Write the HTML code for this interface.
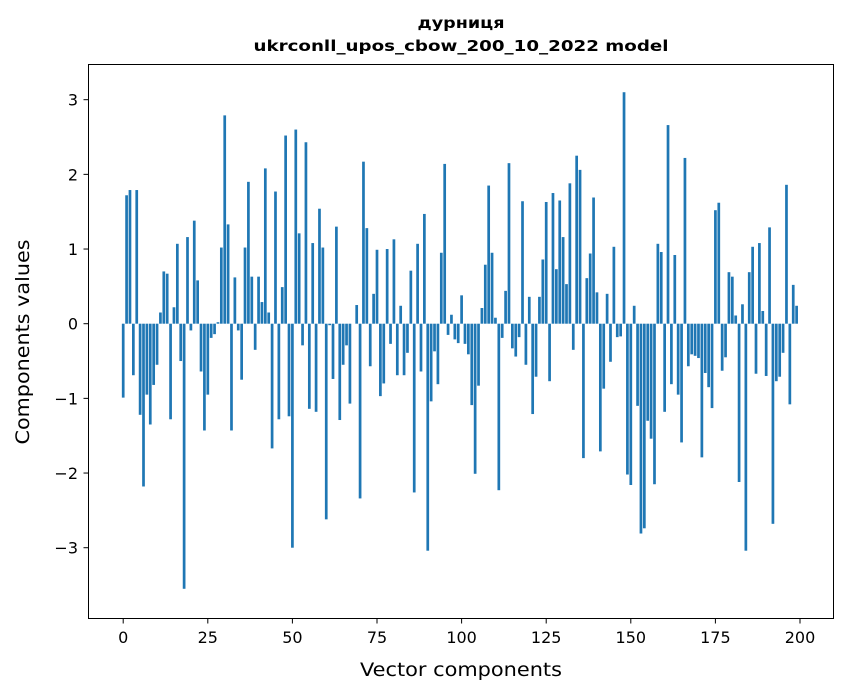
<!DOCTYPE html>
<html><head><meta charset="utf-8"><style>
html,body{margin:0;padding:0;background:#fff;}
svg{display:block;font-family:"DejaVu Sans","Liberation Sans",sans-serif;}
</style></head><body>
<svg id="chart" width="847" height="696" viewBox="0 0 847 696" xmlns="http://www.w3.org/2000/svg">
<rect width="847" height="696" fill="#fff"/>
<text x="461" y="28" text-anchor="middle" font-size="15" font-weight="bold" textLength="87" lengthAdjust="spacingAndGlyphs">дурниця</text>
<text x="461" y="51" text-anchor="middle" font-size="15" font-weight="bold" textLength="415" lengthAdjust="spacingAndGlyphs">ukrconll_upos_cbow_200_10_2022 model</text>
<g id="bars"></g>
<g id="xticks"></g>
<g id="yticks"></g>
<rect x="88.5" y="64.5" width="745" height="554" fill="none" stroke="#000" stroke-width="1"/>
<text x="461" y="676" text-anchor="middle" font-size="19" textLength="202" lengthAdjust="spacingAndGlyphs">Vector components</text>
<text transform="translate(29,342) rotate(-90)" text-anchor="middle" font-size="19" textLength="205" lengthAdjust="spacingAndGlyphs">Components values</text>
</svg>
<script>
const values = [
-0.99,1.72,1.79,-0.69,1.79,-1.22,-2.18,-0.95,-1.35,-0.82,
-0.55,0.15,0.70,0.67,-1.28,0.22,1.07,-0.50,-3.55,1.16,
-0.09,1.38,0.58,-0.64,-1.43,-0.95,-0.19,-0.14,0.02,1.02,
2.79,1.33,-1.43,0.62,-0.09,-0.75,1.02,1.90,0.63,-0.35,
0.63,0.29,2.08,0.15,-1.67,1.77,-1.28,0.49,2.52,-1.24,
-3.00,2.60,1.21,-0.29,2.43,-1.14,1.08,-1.18,1.54,1.02,
-2.62,-0.02,-0.74,1.30,-1.29,-0.55,-0.29,-1.07,0.0,0.25,
-2.34,2.17,1.28,-0.57,0.40,0.99,-0.97,-0.80,1.00,-0.27,
1.13,-0.69,0.24,-0.69,-0.39,0.71,-2.26,1.07,-0.64,1.47,
-3.04,-1.04,-0.37,-0.81,0.95,2.14,-0.15,0.12,-0.21,-0.26,
0.38,-0.27,-0.41,-1.09,-2.01,-0.83,0.21,0.79,1.85,0.95,
0.08,-2.23,-0.19,0.44,2.15,-0.33,-0.44,-0.18,1.64,-0.55,
0.36,-1.21,-0.71,0.36,0.86,1.63,-0.77,1.75,0.73,1.65,
1.16,0.53,1.88,-0.35,2.25,2.06,-1.80,0.61,0.94,1.69,
0.42,-1.71,-0.87,0.40,-0.51,1.03,-0.18,-0.17,3.10,-2.02,
-2.16,0.24,-1.10,-2.81,-2.74,-1.30,-1.54,-2.15,1.07,0.96,
-1.18,2.66,-0.81,0.92,-0.95,-1.59,2.22,-0.57,-0.41,-0.43,
-0.46,-1.79,-0.66,-0.85,-1.13,1.52,1.62,-0.63,-0.45,0.69,
0.63,0.11,-2.12,0.26,-3.04,0.69,1.03,-0.67,1.08,0.17,
-0.70,1.29,-2.68,-0.77,-0.71,-0.39,1.86,-1.08,0.52,0.24
];
const xTickValues = [0,25,50,75,100,125,150,175,200];
const yTickValues = [-3,-2,-1,0,1,2,3];
const yTickLabels = ["\u22123","\u22122","\u22121","0","1","2","3"];

const NS="http://www.w3.org/2000/svg";
const xScale = v => 123.2 + v*3.384;
const yScale = v => 323.7 - v*74.67;
const barW = 0.8*3.384;
const gb=document.getElementById('bars');
values.forEach((v,i)=>{
  const r=document.createElementNS(NS,'rect');
  const y0=yScale(0), y1=yScale(v);
  r.setAttribute('x',(xScale(i)-barW/2).toFixed(2));
  r.setAttribute('y',Math.min(y0,y1).toFixed(2));
  r.setAttribute('width',barW.toFixed(2));
  r.setAttribute('height',Math.abs(y1-y0).toFixed(2));
  r.setAttribute('fill','#1f77b4');
  
  
  gb.appendChild(r);
});
const gx=document.getElementById('xticks');
xTickValues.forEach(t=>{
  const x=xScale(t);
  const l=document.createElementNS(NS,'line');
  l.setAttribute('x1',x);l.setAttribute('x2',x);l.setAttribute('y1',618.5);l.setAttribute('y2',623.5);
  l.setAttribute('stroke','#000');
  
  
  gx.appendChild(l);
  const tx=document.createElementNS(NS,'text');
  tx.setAttribute('x',x);tx.setAttribute('y',643);tx.setAttribute('text-anchor','middle');tx.setAttribute('font-size','16');
  tx.textContent=String(t);
  
  
  gx.appendChild(tx);
});
const gy=document.getElementById('yticks');
yTickValues.forEach((t,i)=>{
  const y=yScale(t);
  const l=document.createElementNS(NS,'line');
  l.setAttribute('x1',83.5);l.setAttribute('x2',88.5);l.setAttribute('y1',y);l.setAttribute('y2',y);
  l.setAttribute('stroke','#000');
  
  
  gy.appendChild(l);
  const tx=document.createElementNS(NS,'text');
  tx.setAttribute('x',78);tx.setAttribute('y',y+6);tx.setAttribute('text-anchor','end');tx.setAttribute('font-size','16');
  tx.textContent=yTickLabels[i];
  
  
  gy.appendChild(tx);
});
</script>
</body></html>
